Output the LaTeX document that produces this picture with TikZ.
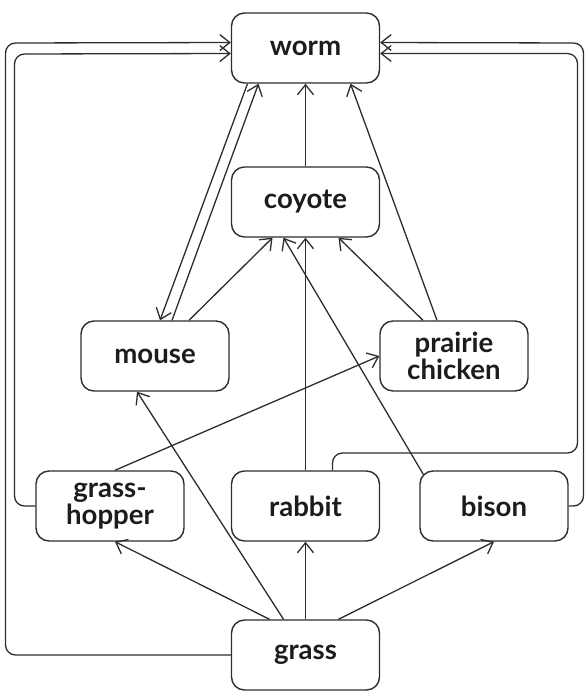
\documentclass[tikz,border=0pt]{standalone}
\usepackage{fontspec}
\setmainfont{Lato}
\usetikzlibrary{arrows.meta}
\definecolor{InkGray}{RGB}{45,45,45}
\definecolor{TextBlack}{RGB}{28,28,28}
\tikzset{
  food/.style={draw=InkGray,line width=0.7pt,rounded corners=6.5pt,
    minimum width=74pt,minimum height=35pt,align=center,inner sep=2pt,
    font=\fontsize{13.8}{13.4}\selectfont\bfseries,text=TextBlack},
  eats/.style={->,draw=InkGray,line width=0.65pt},
  route/.style={eats,rounded corners=5pt},
}

\begin{document}
\begin{tikzpicture}[x=0.5pt,y=-0.5pt,>={Straight Barb[length=5pt,width=8pt]}]
  \useasboundingbox (0,0) rectangle (588,698);
  % food web nodes
  \node[food] (worm)    at (305.5,48)  {worm};
  \node[food] (coyote)  at (305.5,202) {coyote};
  \node[food] (mouse)   at (155,356) {mouse};
  \node[food] (prairie) at (454,356) {prairie\\chicken};
  \node[food] (hopper)  at (110,506) {grass-\\hopper};
  \node[food] (rabbit)  at (305.5,506) {rabbit};
  \node[food] (bison)   at (494,506) {bison};
  \node[food] (grass)   at (305.5,655) {grass};

  % long routes round the outside
  \draw[route] (grass.west) -| (5.5,43) -- ([yshift=2.75pt]worm.west);
  \draw[route] (hopper.west) -| (14.5,54) -- ([yshift=-2.75pt]worm.west);
  \draw[route] (bison.east) -| (583.5,43) -- ([yshift=2.75pt]worm.east);
  \draw[route] ([xshift=13.5pt]rabbit.north) |- (577.5,453) |- ([yshift=-2.75pt]worm.east);

  % into worm
  \draw[eats] (coyote.north) -- (worm.south);
  \draw[eats] ([xshift=8.5pt]mouse.north) -- ([xshift=-23.5pt]worm.south);
  \draw[eats] ([xshift=-29pt]worm.south) -- ([xshift=2.5pt]mouse.north);
  \draw[eats] ([xshift=-8.5pt]prairie.north) -- ([xshift=22.5pt]worm.south);

  % into coyote
  \draw[eats] ([xshift=17pt]mouse.north) -- ([xshift=-16.5pt]coyote.south);
  \draw[eats] (rabbit.north) -- (coyote.south);
  \draw[eats] ([xshift=2pt,yshift=-2pt]bison.north west) -- ([xshift=-11pt]coyote.south);
  \draw[eats] ([xshift=-15.5pt]prairie.north) -- ([xshift=16.5pt]coyote.south);

  % grasshopper and grass
  \draw[eats] ([xshift=2.5pt]hopper.north) -- (prairie.west);
  \draw[eats] ([xshift=-18pt]grass.north) -- ([xshift=2.5pt]hopper.south);
  \draw[eats] ([xshift=-11pt]grass.north) -- ([xshift=-9pt]mouse.south);
  \draw[eats] (grass.north) -- (rabbit.south);
  \draw[eats] ([xshift=16.5pt]grass.north) -- (bison.south);
\end{tikzpicture}
\end{document}
